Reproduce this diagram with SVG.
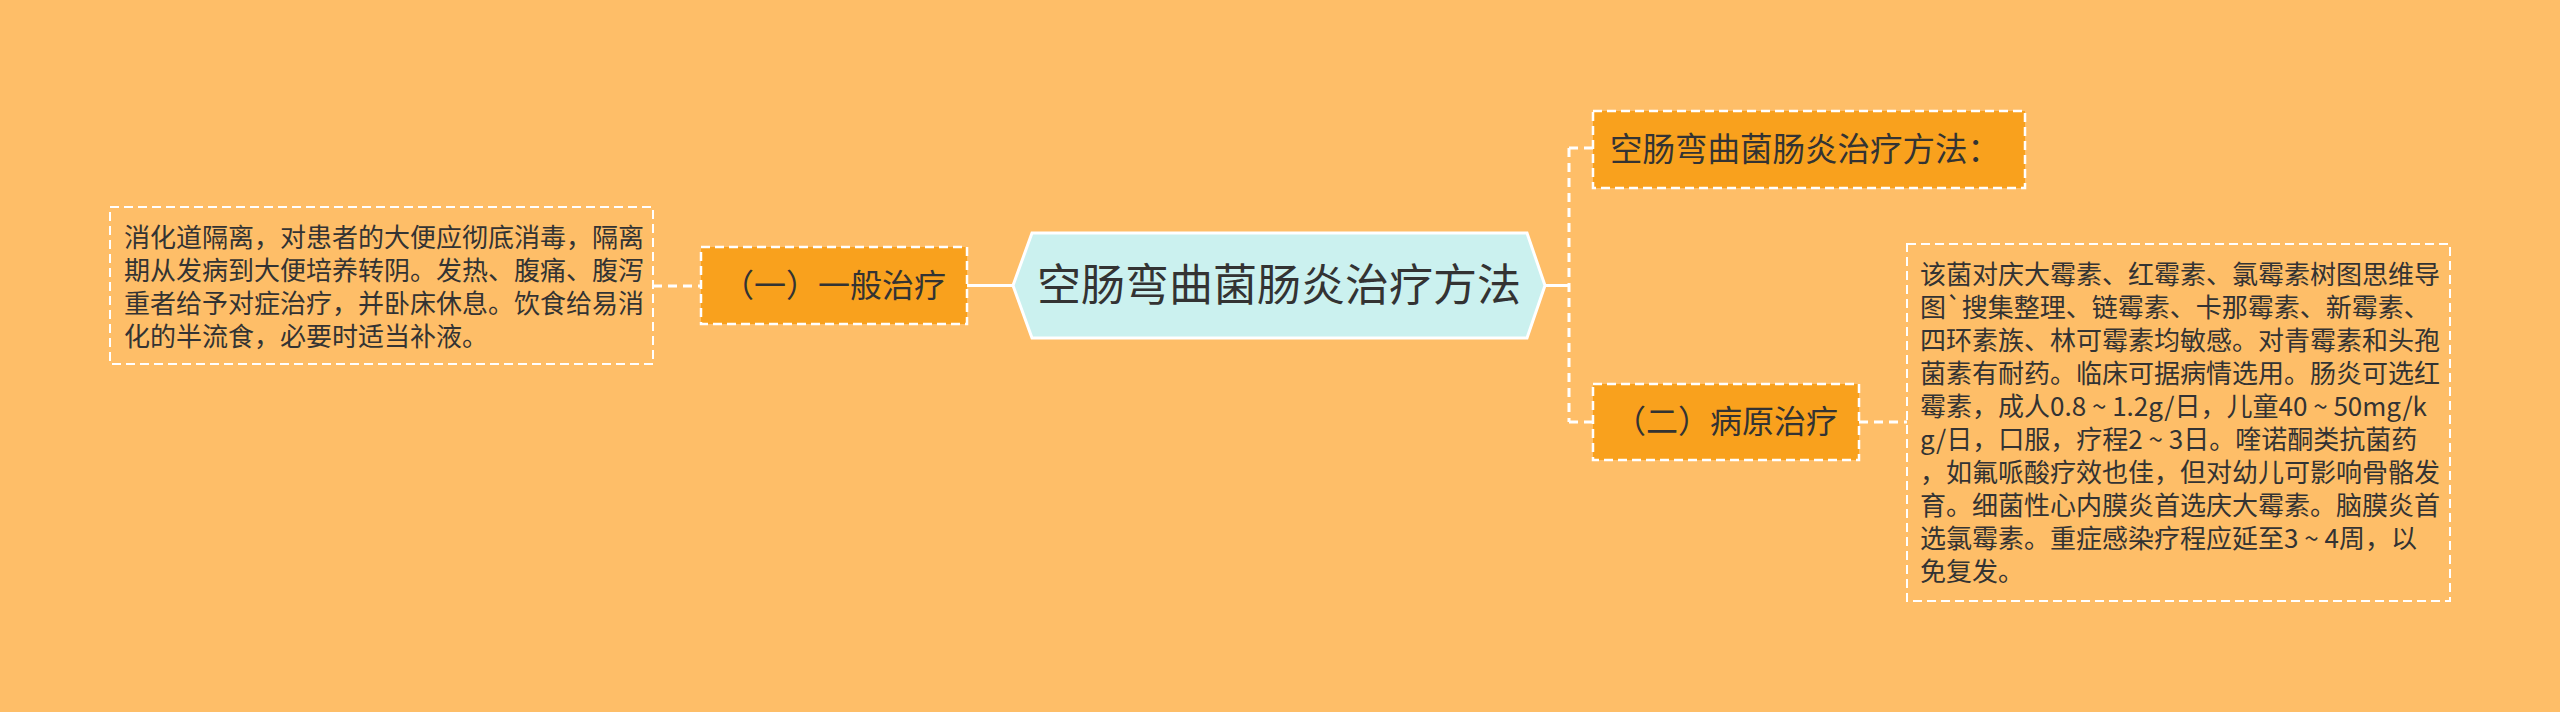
<svg xmlns="http://www.w3.org/2000/svg" width="2560" height="712" viewBox="0 0 2560 712">
<style>
.bg{fill:#FEBE68}
.sub{fill:#F9A11D;stroke:#FFFFFF;stroke-width:2.5;stroke-dasharray:9 5}
.box{fill:none;stroke:#FFFFFF;stroke-width:2;stroke-dasharray:9 5}
.t{font-family:"Noto Sans CJK SC","Noto Sans",sans-serif;fill:#333333}
.solid{stroke:#FFFFFF;stroke-width:3;fill:none}
.dash{stroke:#FFFFFF;stroke-width:3;fill:none;stroke-dasharray:9 6}
</style>
<rect class="bg" x="0" y="0" width="2560" height="712"/>
<g id="connectors">
<line class="solid" x1="967" y1="285.5" x2="1013" y2="285.5"/>
<line class="dash" x1="653" y1="286" x2="701" y2="286"/>
<line class="solid" x1="1545" y1="285.5" x2="1569" y2="285.5"/>
<line class="dash" x1="1569" y1="148" x2="1569" y2="422"/>
<line class="dash" x1="1569" y1="148" x2="1593" y2="148"/>
<line class="dash" x1="1569" y1="422" x2="1593" y2="422"/>
<line class="dash" x1="1859" y1="422" x2="1907" y2="422"/>
</g>
<g id="root">
<polygon points="1013,285.5 1032,233 1527,233 1545,285.5 1527,338 1032,338" fill="#CBF1EF" stroke="#FFFFFF" stroke-width="3"/>
<text class="t" x="1279" y="301" font-size="44" text-anchor="middle">空肠弯曲菌肠炎治疗方法</text>
</g>
<g id="n-general">
<rect class="sub" x="701" y="247" width="266" height="77"/>
<text class="t" x="834" y="297" font-size="32" text-anchor="middle">（一）一般治疗</text>
</g>
<g id="n-general-detail">
<rect class="box" x="110" y="207" width="543" height="157"/>
<text class="t" font-size="26">
<tspan x="124" y="247">消化道隔离，对患者的大便应彻底消毒，隔离</tspan>
<tspan x="124" y="280">期从发病到大便培养转阴。发热、腹痛、腹泻</tspan>
<tspan x="124" y="313">重者给予对症治疗，并卧床休息。饮食给易消</tspan>
<tspan x="124" y="346">化的半流食，必要时适当补液。</tspan>
</text>
</g>
<g id="n-method">
<rect class="sub" x="1593" y="111" width="432" height="77"/>
<text class="t" x="1610" y="161" font-size="32.5">空肠弯曲菌肠炎治疗方法：</text>
</g>
<g id="n-pathogen">
<rect class="sub" x="1593" y="384" width="266" height="76"/>
<text class="t" x="1726" y="433" font-size="32" text-anchor="middle">（二）病原治疗</text>
</g>
<g id="n-pathogen-detail">
<rect class="box" x="1907" y="244" width="543" height="357"/>
<text class="t" font-size="26">
<tspan x="1920" y="284">该菌对庆大霉素、红霉素、氯霉素树图思维导</tspan>
<tspan x="1920" y="317">图`搜集整理、链霉素、卡那霉素、新霉素、</tspan>
<tspan x="1920" y="350">四环素族、林可霉素均敏感。对青霉素和头孢</tspan>
<tspan x="1920" y="383">菌素有耐药。临床可据病情选用。肠炎可选红</tspan>
<tspan x="1920" y="416">霉素，成人0.8 ~ 1.2g/日，儿童40 ~ 50mg/k</tspan>
<tspan x="1920" y="449">g/日，口服，疗程2 ~ 3日。喹诺酮类抗菌药</tspan>
<tspan x="1920" y="482">，如氟哌酸疗效也佳，但对幼儿可影响骨骼发</tspan>
<tspan x="1920" y="515">育。细菌性心内膜炎首选庆大霉素。脑膜炎首</tspan>
<tspan x="1920" y="548">选氯霉素。重症感染疗程应延至3 ~ 4周，以</tspan>
<tspan x="1920" y="581">免复发。</tspan>
</text>
</g>
</svg>
